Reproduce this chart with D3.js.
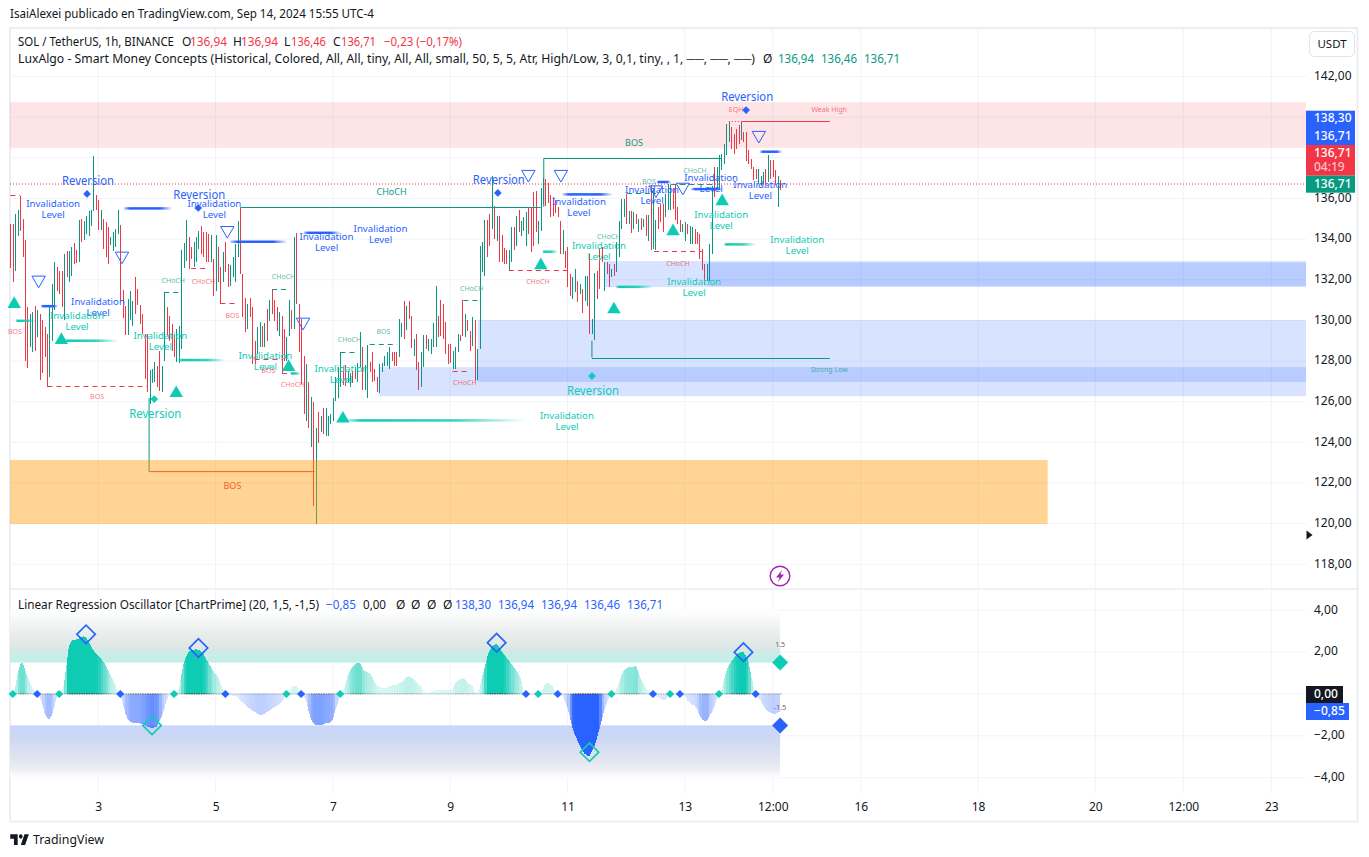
<!DOCTYPE html>
<html>
<head>
<meta charset="utf-8">
<title>SOL / TetherUS</title>
<script src="https://cdn.jsdelivr.net/npm/d3@7"></script>
<style>
  body { margin: 0; background: #fff; }
  svg { display: block; font-family: "Noto Sans", sans-serif; }
</style>
</head>
<body>
<div id="chart"></div>
<script>
// --------------------------------------
//  Data. Bar 0 = Sep 1 12:00, one bar per hour
// --------------------------------------

const candleHigh = [
  134.75,134.75,135.24,135.44,136.14,135.0,133.96,130.64,130.31,130.4,
  130.72,130.5,130.31,130.0,129.66,129.33,130.64,131.79,132.86,132.65,
  132.45,132.45,133.27,133.43,133.43,133.6,133.81,133.48,134.94,135.0,
  134.91,135.16,135.4,135.44,138.11,136.18,135.9,135.44,135.0,134.83,
  134.58,134.09,134.34,134.5,135.44,134.7,131.5,130.72,131.05,131.46,
  130.97,132.15,131.55,130.77,130.31,129.33,129.33,127.55,127.6,127.93,
  127.77,128.51,127.77,131.38,
  130.65,130.23,129.8,129.33,129.58,129.7,133.47,133.8,134.95,134.1,
  133.6,133.85,134.1,134.42,134.62,134.34,134.37,134.26,134.2,133.0,
  134.2,133.6,132.62,133.35,133.85,132.78,132.75,133.14,133.77,134.91,
  135.54,132.29,131.1,130.81,131.1,130.65,129.0,129.66,129.9,129.74,
  129.86,130.56,131.02,131.5,131.0,130.65,130.4,130.23,129.6,129.17,
  131.0,130.5,134.09,134.29,130.81,130.07,128.26,127.85,126.95,126.21,
  125.97,124.73,
  125.5,125.3,125.7,125.7,125.3,125.4,126.2,127.2,127.72,128.43,
  127.7,127.8,127.5,127.4,127.44,127.7,127.9,129.45,128.68,127.8,
  128.8,127.94,128.43,127.6,127.23,127.86,127.9,128.27,128.46,128.68,
  128.43,128.43,128.46,130.07,129.86,130.93,130.73,130.93,130.24,129.09,
  129.33,127.94,128.43,129.3,129.3,129.1,129.09,129.86,131.67,130.2,
  130.98,130.81,129.91,128.84,128.84,128.5,128.71,129.33,129.3,130.98,
  130.32,130.0,129.5,130.15,130.04,128.6,133.68,133.85,134.95,134.95,
  135.25,
  137.08,135.65,135.16,135.16,134.2,133.57,133.47,133.47,134.59,134.59,
  135.16,135.44,134.91,135.11,135.32,135.57,135.57,136.3,136.39,134.91,
  136.52,137.0,136.97,136.75,136.15,136.06,135.9,135.57,134.88,134.46,
  133.4,133.63,132.29,132.12,132.53,131.96,131.8,131.55,132.2,132.2,
  133.27,130.07,132.32,132.45,133.52,133.6,132.86,132.86,132.78,132.53,
  132.78,133.85,134.91,135.98,135.98,136.23,135.4,135.4,135.32,135.24,
  135.0,
  135.05,135.0,135.17,135.17,136.64,136.48,134.92,135.58,135.71,135.71,
  136.23,136.72,136.64,136.5,136.72,135.58,134.92,134.75,134.84,134.75,
  134.62,134.59,134.51,134.34,134.26,133.52,132.78,132.78,133.77,136.6,
  137.55,137.55,138.12,138.2,138.7,139.68,139.76,139.52,139.19,139.43,
  139.6,139.76,139.27,139.27,138.37,137.96,137.55,137.47,137.47,137.1,
  137.3,137.47,138.12,137.87,137.87,137.38,137.09,136.92
];

const candleLow = [
  132.6,131.9,132.42,134.17,134.42,133.1,128.0,127.64,128.67,128.46,
  128.5,129.16,127.08,127.4,128.18,126.73,127.2,128.97,130.51,131.46,
  131.3,130.64,130.0,132.15,131.87,132.2,132.78,132.81,132.86,133.85,
  133.96,134.25,134.17,134.62,135.37,135.44,134.47,134.47,133.52,133.1,
  132.78,133.73,133.4,133.6,134.25,130.97,130.1,129.28,129.28,130.0,
  129.7,130.31,130.77,129.82,129.33,127.11,126.46,125.9,126.9,126.95,
  126.73,126.54,126.5,128.02,
  129.25,129.0,128.5,128.18,127.94,127.9,128.6,132.6,132.91,132.53,
  133.0,132.62,132.86,133.52,133.27,133.1,132.86,132.86,132.86,131.22,
  131.47,131.88,130.8,131.88,132.37,131.66,131.71,132.12,131.88,133.1,
  132.29,130.15,129.41,129.58,130.15,127.85,127.85,128.35,128.67,128.67,
  128.67,129.0,129.96,130.3,129.96,129.5,129.25,127.36,128.0,128.0,
  129.25,129.58,129.58,130.81,128.43,126.87,125.39,125.06,124.73,123.75,
  120.88,119.97,
  123.95,124.5,124.4,124.3,124.3,124.9,125.06,126.05,126.2,126.7,
  126.8,126.75,126.95,126.7,126.9,127.1,126.95,127.7,126.6,126.6,
  126.2,127.45,126.95,127.0,126.46,126.41,127.45,127.78,127.78,127.6,
  128.0,127.78,127.78,128.2,129.17,129.09,129.53,130.07,128.63,128.27,
  127.58,126.58,126.7,127.7,128.6,128.5,128.35,128.71,128.71,129.17,
  129.22,129.09,128.35,127.86,127.9,127.6,127.6,128.43,129.0,129.25,
  129.17,129.5,128.51,128.76,127.03,127.07,128.6,132.37,132.2,133.1,
  133.68,
  134.5,134.0,133.93,132.86,132.86,132.78,132.78,132.45,132.86,133.44,
  133.68,134.34,134.13,134.42,133.68,134.26,133.35,133.68,134.34,133.77,
  134.42,135.73,135.65,135.8,135.1,135.16,135.3,135.08,133.27,133.27,
  132.6,131.63,131.22,131.06,131.38,130.89,131.3,130.35,130.97,130.7,
  129.33,129.33,129.05,131.06,131.55,132.86,131.43,132.29,131.63,132.12,
  132.2,132.37,133.1,134.5,135.08,134.75,134.75,134.29,134.5,134.75,
  134.34,
  134.43,134.6,134.13,133.93,133.44,133.52,133.44,134.51,134.84,134.34,
  135.08,135.41,135.41,135.5,134.92,134.75,134.34,134.34,133.93,134.26,
  133.77,133.77,133.77,133.77,133.03,132.5,131.72,131.96,131.96,133.28,
  136.07,136.4,136.4,137.38,137.71,138.12,138.78,138.45,138.2,138.45,
  138.7,138.86,138.78,137.84,137.71,137.47,136.89,136.97,136.72,136.6,
  136.72,136.64,136.8,136.97,137.05,136.64,135.58,136.43
];

// 1 = green bar, 0 = red bar
const candleUp = [
  0,0,1,1,0,0,0,0,1,1, 0,1,0,0,0,0,1,1,1,0, 0,0,1,0,1,1,0,0,1,0,
  1,1,1,1,1,0,0,1,0,0, 0,1,1,1,1,0,0,0,1,1, 1,0,0,0,0,0,0,1,1,1,
  0,0,1,1,
  0,0,0,0,1,1,1,1,1,0, 0,1,1,1,0,0,0,0,1,0, 1,0,0,1,0,0,1,1,1,1,
  0,0,0,1,0,0,0,1,1,0, 1,0,1,0,0,0,1,0,0,1, 1,0,1,0,0,0,0,1,0,1,
  0,1,
  0,1,0,1,1,1,1,1,1,1, 0,0,1,1,0,0,1,1,0,1, 1,0,0,0,0,1,1,1,1,1,
  0,0,0,1,1,0,1,0,0,1, 0,0,1,1,0,1,1,1,1,0, 0,0,0,0,0,1,1,1,0,0,
  1,0,0,1,0,1,1,1,1,0, 0,
  1,0,1,0,0,0,0,1,1,0, 1,0,1,1,1,0,0,0,0,1, 1,1,0,0,0,0,0,0,0,1,
  0,0,0,1,1,0,1,0,1,1, 0,1,1,0,0,0,1,0,0,1, 0,1,1,1,1,0,1,0,1,0,
  1,
  0,1,0,1,0,1,1,0,0,0, 1,1,1,0,0,0,0,1,1,0, 1,1,0,0,0,0,0,1,1,1,
  0,1,1,1,1,1,1,0,0,0, 0,1,0,0,0,0,0,0,1,1, 1,0,1,0,0,0,1,0
];

const oscValue = [
  0,.05,.3,1,1.4,1.5,1.2,.85,.55,.3,.15,0,-.15,-.45,-.9,-1.15,-1.2,-1,-.6,-.15,
  0,.05,.5,1.4,2.3,2.55,2.6,2.6,2.65,2.7,2.75,2.7,2.5,2.3,2.1,1.95,1.85,1.7,1.55,1.4,
  1.15,.9,.7,.45,.15,0,-.45,-.9,-1.2,-1.3,-1.4,-1.4,-1.4,-1.4,-1.45,-1.5,-1.55,-1.6,-1.65,-1.6,
  -1.55,-1.3,-1.05,-.7,-.3,-.05,0,.02,.1,.25,.9,1.5,1.8,2,2.1,2.1,2.15,2.1,2.05,1.9,
  1.7,1.5,1.3,1.1,.95,.85,.5,.2,0,-.05,-.05,-.08,-.1,-.15,-.3,-.4,-.5,-.6,-.7,-.8,
  -.85,-.95,-1,-1,-.95,-.85,-.8,-.7,-.65,-.55,-.5,-.4,-.2,0,.15,.25,.4,.4,.15,0,
  -.1,-.3,-.8,-1.2,-1.4,-1.5,-1.5,-1.5,-1.45,-1.4,-1.4,-1.35,-1.2,-.8,-.45,0,.1,.4,.85,1.1,
  1.3,1.4,1.5,1.5,1.25,1.1,1.05,1,.85,.6,.4,.35,.3,.3,.3,.35,.4,.42,.45,.5,
  .55,.65,.8,.85,.8,.7,.6,.45,.4,.1,.05,.05,.1,.15,.15,.18,.2,.2,.2,.2,
  .2,.22,.5,.62,.7,.75,.72,.55,.45,.45,.1,.05,.25,.8,1.2,1.7,2.05,2.25,2.35,2.4,
  2.25,2.05,1.9,1.75,1.6,1.45,1.3,1.15,.95,.7,.1,0,0,0,0,0,0,.1,.3,.5,
  .55,.45,.38,.1,0,-.05,-.12,-.35,-.65,-1.1,-1.6,-1.95,-2.2,-2.45,-2.7,-2.85,-2.95,-2.95,-2.75,-2.5,
  -2.15,-1.7,-1.25,-.8,-.45,-.2,0,.05,.2,.5,.9,1.1,1.22,1.27,1.3,1.3,1.35,1.05,.75,.5,
  .3,.15,.08,0,-.1,-.15,-.22,-.3,-.3,-.12,0,.03,.02,0,0,-.05,-.1,-.3,-.4,-.5,
  -.55,-.7,-1,-1.2,-1.3,-1.3,-1.05,-.9,-.6,-.3,0,.2,.65,1.1,1.35,1.55,1.7,1.85,1.95,2,
  2,1.85,1.55,1,.45,0,-.2,-.3,-.55,-.7,-.82,-.9,-.93,-.95,-.9,-.85
];

const oscCrossTeal = [1, 20, 67, 113, 135, 216, 246, 270, 290];
const oscCrossBlue = [11, 45, 88, 119, 211, 224, 263, 274, 305];
const oscPeaks = [[31, 2.85], [77, 2.2], [199, 2.45], [300, 2.0]];
const oscTroughs = [[58, -1.5], [237, -2.78]];
const oscLevels = [1.5, -1.5];

const priceTicks = [142, 140, 138, 136, 134, 132, 130, 128, 126, 124, 122, 120, 118];
const oscTicks = [4, 2, 0, -2, -4];
const timeTicks = [36, 84, 132, 180, 228, 276, 312, 348, 396, 444, 480, 516];
const timeLabels = ["3", "5", "7", "9", "11", "13", "12:00", "16", "18", "20", "12:00", "23"];

// zones: [first bar, top price, bottom price]
const supplyZone = [0, 140.74, 138.49];
const orangeZone = [0, 424.5, 123.13, 119.98];
const blueZones = [[150.7, 127.7, 126.27], [191.3, 130.02, 126.97], [243.3, 132.92, 131.64], [285.5, 132.84, 131.69]];

// structure lines: [first bar, last bar, price]
const solidGreen = [[94.1, 217, 135.58], [218.3, 290.9, 137.97], [238, 335.3, 128.17]];
const solidRed = [[299.5, 335.3, 139.81]];
const solidOrange = [[56.8, 124.5, 122.56]];
const dashRed = [[15.2, 55.9, 126.75], [74, 80.6, 132.57], [86, 92.9, 130.85], [99.9, 111.2, 128.1], [111.2, 116.7, 127.39],
  [181, 187.6, 127.51], [204, 228.2, 132.46], [263.4, 282.9, 133.4], [0, 4, 136.17]];
const dashGreen = [[63, 70.2, 131.41], [107.1, 113.8, 131.54], [135.1, 141.7, 128.46], [147.1, 158.3, 128.82],
  [185.4, 191.8, 130.99], [252.3, 264.2, 136.25], [270.4, 287.6, 136.69]];
const stemGreen = [[218.3, 137.97, 135.58], [238, 129, 128.17], [56.8, 126.18, 122.56]];
const lastPrice = 136.71;
const eqhDots = [294, 299.5, 139.81];

// invalidation lines: [first bar, last bar, price]
const invalBlueLines = [[46.5, 66.3, 135.51], [12.5, 19.5, 130.7], [90, 113.4, 133.87], [120, 135.1, 134.31],
  [226, 246.6, 136.2], [264.6, 270.3, 136.81], [278.6, 291.7, 136.46], [306.8, 315.9, 138.3]];
const invalTealLines = [[2.3, 10.5, 129.98], [21.6, 44.1, 129], [68.7, 88, 128.05], [114.6, 118.7, 127.39],
  [137.6, 211, 125.08], [217.8, 224, 133.38], [247.8, 263, 131.65], [292, 305.2, 133.74]];

// invalidation labels: [bar, price]
const invalBlueText = [[17.5, 135.49], [35.9, 130.68], [83.5, 135.49], [129.4, 133.88], [151.5, 134.27],
  [232.7, 135.6], [262.6, 136.19], [286.8, 136.78], [306.9, 136.44]];
const invalTealText = [[27.3, 129.99], [61.4, 129.01], [104.4, 128.02], [135.5, 127.38], [240.9, 133.39],
  [227.8, 125.07], [290.9, 134.96], [279.8, 131.66], [322, 133.73]];

const triUp = [[1.6, 130.9], [20.9, 129.13], [67.9, 126.52], [113.9, 127.8], [136.1, 125.26],
  [217.1, 132.81], [247, 130.64], [271.2, 134.48], [291.3, 135.96]];
const triDown = [[11.6, 131.89], [45.7, 133.07], [88.8, 134.33], [119.8, 129.82], [212, 137.09],
  [225.3, 137.09], [264.2, 136.33], [275.2, 136.46], [306.3, 139.01]];

const reversalBlue = [[31.4, 136.22], [76.9, 135.53], [199.5, 136.27], [301.1, 140.35]];
const reversalTeal = [[58.9, 126.13], [238, 127.26]];

// small structure labels: [bar, price, text]
const labelsRed = [[1.9, 129.43, "BOS"], [35.5, 126.23, "BOS"], [79, 131.93, "CHoCH"], [90.9, 130.26, "BOS"], [105.6, 127.51, "BOS"],
  [115.5, 126.82, "CHoCH"], [186, 126.92, "CHoCH"], [215.9, 131.93, "CHoCH"], [273.2, 132.82, "CHoCH"], [297, 140.35, "EQH"], [335.1, 140.35, "Weak High"]];
const labelsGreen = [[66.7, 131.98, "CHoCH"], [111.8, 132.18, "CHoCH"], [138.8, 129.08, "CHoCH"], [152.7, 129.47, "BOS"], [188.8, 131.59, "CHoCH"],
  [244.9, 134.15, "CHoCH"], [261.3, 136.81, "BOS"], [280.2, 137.35, "CHoCH"], [335.1, 127.56, "Strong Low"]];

// --------------------------------------
//  Margin and canvas
// --------------------------------------

const width = 1369;
const height = 857;
const plot = {left: 10, right: 1306, top: 29, mid: 589, bottom: 793};

const green = "#089981";
const red = "#F23645";
const blue = "#2962FF";
const teal = "#0ECBB4";
const ink = "#131722";
const grid = "#f0f3fa";

const svg = d3.select("#chart")
  .append("svg")
    .attr("width", width)
    .attr("height", height)
    .attr("viewBox", `0 0 ${width} ${height}`);

const defs = svg.append("defs");

defs.append("clipPath").attr("id", "mainClip")
  .append("rect")
    .attr("x", plot.left).attr("y", plot.top)
    .attr("width", plot.right - plot.left).attr("height", plot.mid - plot.top);

// --------------------------------------
//  Scales
// --------------------------------------

const x = d3.scaleLinear().domain([0, 516]).range([10.3, 1271.3]);
const y = d3.scaleLinear().domain([142, 118]).range([76.5, 564.3]);
const yo = d3.scaleLinear().domain([4, -4]).range([610.3, 777.7]);

const commaFormat = d => d3.format(".2f")(d).replace(".", ",");

// --------------------------------------
//  Gradients
// --------------------------------------

function fadeGradient(id, color, stops) {
  const g = defs.append("linearGradient").attr("id", id);
  stops.forEach(s => g.append("stop")
    .attr("offset", s[0]).attr("stop-color", color).attr("stop-opacity", s[1]));
}
fadeGradient("fadeBlue", blue, [[0, .25], [.12, 1], [.75, 1], [1, 0]]);
fadeGradient("fadeTeal", teal, [[0, .25], [.08, 1], [.6, .85], [1, 0]]);

function bandGradient(id, stops) {
  const g = defs.append("linearGradient").attr("id", id)
    .attr("x1", 0).attr("y1", 0).attr("x2", 0).attr("y2", 1);
  stops.forEach(s => g.append("stop").attr("offset", s[0]).attr("stop-color", s[1]));
}
bandGradient("bandUp", [[0, "#ffffff"], [.45, "#e9edec"], [.76, "#dbe6e4"], [.78, "#cdebe6"], [1, "#c2efe9"]]);
bandGradient("bandDown", [[0, "#c9d6f8"], [.2, "#ccd7f6"], [.6, "#dfe3ef"], [.85, "#eeeff3"], [1, "#ffffff"]]);

// --------------------------------------
//  Frame and grid
// --------------------------------------

svg.append("rect")
  .attr("x", 10).attr("y", 28)
  .attr("width", 1347.5).attr("height", 793.5)
  .attr("fill", "none").attr("stroke", "#eceef4").attr("stroke-width", 2);

svg.append("line")
  .attr("x1", 10).attr("x2", 1358).attr("y1", plot.mid).attr("y2", plot.mid)
  .attr("stroke", "#e0e3eb").attr("stroke-width", 1);

svg.append("g").selectAll("line")
  .data(priceTicks)
  .join("line")
    .attr("x1", plot.left).attr("x2", plot.right)
    .attr("y1", d => y(d)).attr("y2", d => y(d))
    .attr("stroke", grid);

svg.append("g").selectAll("line")
  .data(oscTicks)
  .join("line")
    .attr("x1", plot.left).attr("x2", plot.right)
    .attr("y1", d => yo(d)).attr("y2", d => yo(d))
    .attr("stroke", grid);

svg.append("g").selectAll("line")
  .data(timeTicks)
  .join("line")
    .attr("x1", d => x(d)).attr("x2", d => x(d))
    .attr("y1", plot.top).attr("y2", plot.bottom)
    .attr("stroke", grid);

// --------------------------------------
//  Candles
// --------------------------------------

const main = svg.append("g").attr("clip-path", "url(#mainClip)");

main.append("g").selectAll("rect")
  .data(candleHigh)
  .join("rect")
    .attr("x", (d, i) => Math.round(x(i)) - 0.5)
    .attr("y", d => y(d))
    .attr("width", 1)
    .attr("height", (d, i) => y(candleLow[i]) - y(d))
    .attr("fill", (d, i) => candleUp[i] ? green : red)
    .attr("shape-rendering", "crispEdges");

// --------------------------------------
//  Zones
// --------------------------------------

// the lines under the orange box show through it
const lineGen = d3.line().x(d => d[0]).y(d => d[1]);

main.append("g").selectAll("path")
  .data(solidOrange)
  .join("path")
    .attr("d", d => lineGen([[x(d[0]), y(d[2])], [x(d[1]), y(d[2])]]))
    .attr("stroke", red).attr("stroke-width", 1).attr("fill", "none");

main.append("g").selectAll("path")
  .data(stemGreen)
  .join("path")
    .attr("d", d => lineGen([[x(d[0]), y(d[1])], [x(d[0]), y(d[2])]]))
    .attr("stroke", green).attr("fill", "none");

main.append("rect")
  .attr("x", plot.left).attr("width", plot.right - plot.left)
  .attr("y", y(supplyZone[1])).attr("height", y(supplyZone[2]) - y(supplyZone[1]))
  .attr("fill", red).attr("fill-opacity", .13);

main.append("rect")
  .attr("x", plot.left).attr("width", x(orangeZone[1]) - plot.left)
  .attr("y", y(orangeZone[2])).attr("height", y(orangeZone[3]) - y(orangeZone[2]))
  .attr("fill", "#FF9800").attr("fill-opacity", .42);

main.append("g").selectAll("rect")
  .data(blueZones)
  .join("rect")
    .attr("x", d => x(d[0]))
    .attr("width", d => plot.right - x(d[0]))
    .attr("y", d => y(d[1]))
    .attr("height", d => y(d[2]) - y(d[1]))
    .attr("fill", blue).attr("fill-opacity", .18);

// --------------------------------------
//  Structure lines
// --------------------------------------

function hLines(rows, color, dash, op) {
  main.append("g").selectAll("line")
    .data(rows)
    .join("line")
      .attr("x1", d => x(d[0])).attr("x2", d => x(d[1]))
      .attr("y1", d => Math.round(y(d[2])) + .5).attr("y2", d => Math.round(y(d[2])) + .5)
      .attr("stroke", color)
      .attr("stroke-opacity", op || 1)
      .attr("stroke-dasharray", dash);
}
hLines(solidGreen, green);
hLines(solidRed, red);
hLines(dashRed, red, "5 4");
hLines(dashGreen, green, "5 4");
hLines([eqhDots], red, "1 2");

main.append("line")
  .attr("x1", plot.left).attr("x2", plot.right)
  .attr("y1", y(lastPrice)).attr("y2", y(lastPrice))
  .attr("stroke", red).attr("stroke-dasharray", "1 2");

// invalidation lines
function invalLines(rows, grad) {
  main.append("g").selectAll("rect")
    .data(rows)
    .join("rect")
      .attr("x", d => x(d[0]))
      .attr("width", d => x(d[1]) - x(d[0]))
      .attr("y", d => y(d[2]) - 1.25)
      .attr("height", 2.5)
      .attr("fill", `url(#${grad})`);
}
invalLines(invalBlueLines, "fadeBlue");
invalLines(invalTealLines, "fadeTeal");

// --------------------------------------
//  Markers
// --------------------------------------

const triangle = d3.symbol().type(d3.symbolTriangle).size(78);
const diamond = s => d3.symbol().type(d3.symbolSquare).size(s)();

svg.append("g").selectAll("path")
  .data(triUp)
  .join("path")
    .attr("d", triangle)
    .attr("transform", d => `translate(${x(d[0])},${y(d[1]) + 2})`)
    .attr("fill", teal);

svg.append("g").selectAll("path")
  .data(triDown)
  .join("path")
    .attr("d", triangle)
    .attr("transform", d => `translate(${x(d[0])},${y(d[1]) - 2}) rotate(180)`)
    .attr("fill", "none").attr("stroke", blue);

function reversal(rows, color, offset) {
  svg.append("g").selectAll("path")
    .data(rows)
    .join("path")
      .attr("d", diamond(30))
      .attr("transform", d => `translate(${x(d[0])},${y(d[1])}) rotate(45)`)
      .attr("fill", color);
  svg.append("g").selectAll("text")
    .data(rows)
    .join("text")
      .attr("x", d => x(d[0]) + 1)
      .attr("y", d => y(d[1]) + offset)
      .attr("dy", "0.35em")
      .attr("text-anchor", "middle")
      .attr("font-size", 12.5)
      .attr("textLength", 52)
      .attr("lengthAdjust", "spacingAndGlyphs")
      .attr("fill", color)
      .text("Reversion");
}
reversal(reversalBlue, blue, -13);
reversal(reversalTeal, teal, 15);

// --------------------------------------
//  Labels
// --------------------------------------

function invalText(rows, color) {
  const t = svg.append("g").selectAll("text")
    .data(rows)
    .join("text")
      .attr("text-anchor", "middle")
      .attr("font-size", 9.7)
      .attr("fill", color);
  t.append("tspan")
    .attr("x", d => x(d[0])).attr("y", d => y(d[1]) - 2)
    .text("Invalidation");
  t.append("tspan")
    .attr("x", d => x(d[0])).attr("y", d => y(d[1]) + 9)
    .text("Level");
}
invalText(invalBlueText, blue);
invalText(invalTealText, teal);

function smallLabels(rows, color) {
  svg.append("g").selectAll("text")
    .data(rows)
    .join("text")
      .attr("x", d => x(d[0]))
      .attr("y", d => y(d[1]))
      .attr("dy", "0.35em")
      .attr("text-anchor", "middle")
      .attr("font-size", 7)
      .attr("fill", color)
      .attr("fill-opacity", .7)
      .text(d => d[2]);
}
smallLabels(labelsRed, red);
smallLabels(labelsGreen, green);

function bigLabel(bar, price, txt, color) {
  svg.append("text")
    .attr("x", x(bar)).attr("y", y(price)).attr("dy", "0.35em")
    .attr("text-anchor", "middle")
    .attr("font-size", 9).attr("fill", color)
    .text(txt);
}
bigLabel(156, 136.31, "CHoCH", green);
bigLabel(255.2, 138.73, "BOS", green);
bigLabel(90.9, 121.85, "BOS", "#F0612A");

// --------------------------------------
//  Oscillator
// --------------------------------------

svg.append("rect")
  .attr("x", plot.left).attr("width", x(315) - plot.left)
  .attr("y", yo(4)).attr("height", yo(1.5) - yo(4))
  .attr("fill", "url(#bandUp)");

svg.append("rect")
  .attr("x", plot.left).attr("width", x(315) - plot.left)
  .attr("y", yo(-1.5)).attr("height", yo(-4) - yo(-1.5))
  .attr("fill", "url(#bandDown)");

const strength = d3.scaleLinear().domain([0, 1, 1.5, 2]).range([.1, .3, .6, 1]).clamp(true);
const oscArea = d3.area().x(d => x(d[0])).y0(yo(0)).y1(d => yo(d[1]));

svg.append("g").selectAll("path")
  .data(oscValue.slice(0, -1))
  .join("path")
    .attr("d", (d, i) => oscArea([[i, d], [i + 1, oscValue[i + 1]]]))
    .attr("shape-rendering", "crispEdges")
    .attr("fill", (d, i) => (d + oscValue[i + 1]) >= 0 ? teal : blue)
    .attr("fill-opacity", (d, i) => strength(Math.max(Math.abs(d), Math.abs(oscValue[i + 1]))));

svg.append("g").selectAll("rect")
  .data(oscValue)
  .join("rect")
    .attr("x", (d, i) => x(i))
    .attr("y", yo(0) - 1)
    .attr("width", 1.6)
    .attr("height", 1.6)
    .attr("fill", "#444")
    .attr("fill-opacity", d => .12 + .6 * strength(Math.abs(d)));

function oscDiamonds(rows, value, color, size, hollow) {
  svg.append("g").selectAll("path")
    .data(rows)
    .join("path")
      .attr("d", diamond(size))
      .attr("transform", d => `translate(${x(value(d)[0])},${yo(value(d)[1])}) rotate(45)`)
      .attr("fill", hollow ? "none" : color)
      .attr("stroke", hollow ? color : "none")
      .attr("stroke-width", 1.7);
}
oscDiamonds(oscCrossTeal, d => [d, 0], teal, 34);
oscDiamonds(oscCrossBlue, d => [d, 0], blue, 34);
oscDiamonds(oscPeaks, d => d, blue, 170, true);
oscDiamonds(oscTroughs, d => d, teal, 170, true);
oscDiamonds([oscLevels[0]], d => [315, d], teal, 128);
oscDiamonds([oscLevels[1]], d => [315, d], blue, 128);

svg.append("g").selectAll("text")
  .data(oscLevels)
  .join("text")
    .attr("x", x(315))
    .attr("y", d => yo(d) - 18)
    .attr("dy", "0.35em")
    .attr("text-anchor", "middle")
    .attr("font-size", 7)
    .attr("fill", "#666")
    .text(d => String(d));

// --------------------------------------
//  Axes
// --------------------------------------

function styleAxis(g) {
  g.select(".domain").remove();
  g.selectAll("text").attr("fill", ink).attr("font-size", 12).attr("font-family", '"Noto Sans", sans-serif');
}

svg.append("g")
  .attr("transform", `translate(${plot.right + 8},-1)`)
  .call(d3.axisRight(y).tickValues(priceTicks).tickSize(0).tickPadding(0).tickFormat(commaFormat))
  .call(styleAxis);

svg.append("g")
  .attr("transform", `translate(${plot.right + 8},-1)`)
  .call(d3.axisRight(yo).tickValues(oscTicks).tickSize(0).tickPadding(0).tickFormat(commaFormat))
  .call(styleAxis);

svg.append("g")
  .attr("transform", `translate(0,${plot.bottom + 9})`)
  .call(d3.axisBottom(x).tickValues(timeTicks).tickSize(0).tickPadding(0).tickFormat((d, i) => timeLabels[i]))
  .call(styleAxis);

// price tags on the axis
function tag(yTop, h, w, fill) {
  svg.append("rect")
    .attr("x", plot.right).attr("y", yTop)
    .attr("width", w).attr("height", h)
    .attr("fill", fill);
}
function tagText(yMid, txt, color, weight) {
  svg.append("text")
    .attr("x", plot.right + 8).attr("y", yMid).attr("dy", "0.35em")
    .attr("font-size", 12).attr("font-weight", weight || 500)
    .attr("fill", color || "#fff")
    .text(txt);
}
tag(110.7, 34.3, 49, blue);
tag(145, 30.7, 49, red);
tag(175.7, 17, 49, green);
tagText(118, commaFormat(138.30));
tagText(135.5, commaFormat(136.71));
tagText(153, commaFormat(136.71));
tagText(167, "04:19", "#ffc4ca");
tagText(184, commaFormat(136.71));
tag(686, 17, 37, "#131722");
tag(703, 17, 43, blue);
tagText(694, "0,00");
tagText(711, "−0,85");

svg.append("rect")
  .attr("x", 1309.5).attr("y", 31.5).attr("width", 45).attr("height", 25).attr("rx", 5)
  .attr("fill", "#fff").attr("stroke", "#e0e3eb");
svg.append("text")
  .attr("x", 1332).attr("y", 44).attr("dy", "0.35em").attr("text-anchor", "middle")
  .attr("font-size", 11.5).attr("fill", ink).text("USDT");

// --------------------------------------
//  Header texts
// --------------------------------------

function put(px, py, txt, color, size, len) {
  const t = svg.append("text")
    .attr("x", px).attr("y", py).attr("dy", "0.35em")
    .attr("font-size", size || 12)
    .attr("fill", color || ink)
    .text(txt);
  if (len) t.attr("textLength", len).attr("lengthAdjust", "spacingAndGlyphs");
}

put(10, 14, "IsaiAlexei publicado en TradingView.com, Sep 14, 2024 15:55 UTC-4", ink, 12, 364);

put(18, 42, "SOL / TetherUS, 1h, BINANCE", ink, 12, 156);
put(182, 42, "O", ink); put(190, 42, "136,94", red, 12, 37);
put(233, 42, "H", ink); put(241, 42, "136,94", red, 12, 37);
put(284, 42, "L", ink); put(291, 42, "136,46", red, 12, 35);
put(333, 42, "C", ink); put(341, 42, "136,71", red, 12, 35);
put(384, 42, "−0,23 (−0,17%)", red, 12, 78);

put(18, 59, "LuxAlgo - Smart Money Concepts (Historical, Colored, All, All, tiny, All, All, small, 50, 5, 5, Atr, High/Low, 3, 0,1, tiny, , 1, ──, ──, ──)", ink, 12, 737);
put(763, 59, "Ø", ink);
put(778, 59, "136,94", green, 12, 36);
put(821, 59, "136,46", green, 12, 36);
put(864, 59, "136,71", green, 12, 36);

put(18, 605, "Linear Regression Oscillator [ChartPrime] (20, 1,5, -1,5)", ink, 12, 301);
put(326, 605, "−0,85", blue, 12, 30);
put(363, 605, "0,00", ink, 12, 23);
[396, 411, 427, 443].forEach(px => put(px, 605, "Ø", ink));
[[455, "138,30"], [498, "136,94"], [541, "136,94"], [584, "136,46"], [627, "136,71"]]
  .forEach(d => put(d[0], 605, d[1], blue, 12, 36));

// --------------------------------------
//  Small icons and logo
// --------------------------------------

svg.append("circle")
  .attr("cx", 780).attr("cy", 576).attr("r", 9.8)
  .attr("fill", "#fff").attr("stroke", "#9C27B0").attr("stroke-width", 1.4);
svg.append("path")
  .attr("d", "M782 570 L776 577.5 L779.5 577.5 L778 582 L784 574.5 L780.5 574.5 Z")
  .attr("fill", "#9C27B0");

svg.append("path")
  .attr("d", "M1306.5 530.5 L1312.5 535 L1306.5 539.5 Z")
  .attr("fill", ink);

svg.append("path")
  .attr("transform", "translate(9,830) scale(.62,.72)")
  .attr("d", "M14 6H2v6h6v9h6V6Zm12 15h-7l6-15h7l-6 15Zm-7-9a3 3 0 1 0 0-6 3 3 0 0 0 0 6Z")
  .attr("fill", ink);
put(33, 840, "TradingView", ink, 12.5, 71);
</script>
</body>
</html>
